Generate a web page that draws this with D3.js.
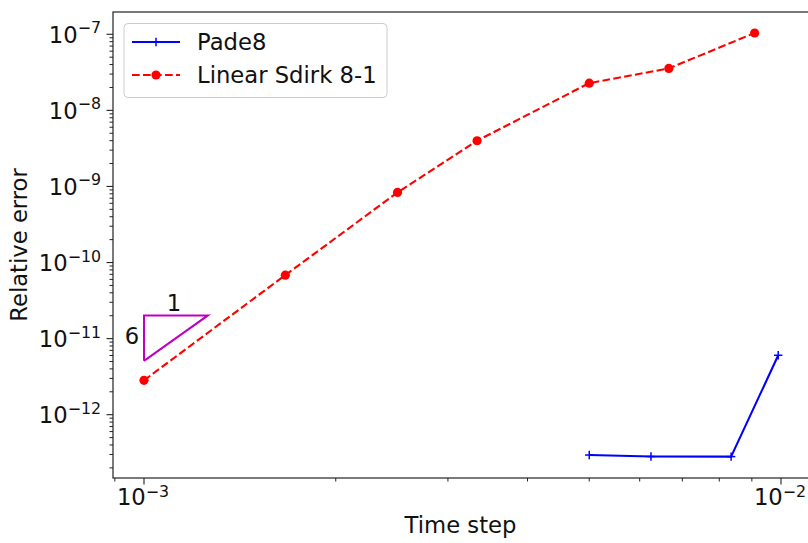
<!DOCTYPE html>
<html>
<head>
<meta charset="utf-8">
<script src="https://cdn.jsdelivr.net/npm/d3@7"></script>
<style>
  html, body { margin: 0; padding: 0; background: #fff; }
  svg { display: block; font-family: "DejaVu Sans", sans-serif; }
</style>
</head>
<body>
<svg id="chart" width="808" height="543"></svg>
<script>
// ---- data ----
const sdirkSteps = [0.001, 1/600, 0.0025, 1/300, 0.005, 1/150, 1/110];
const sdirkErrors = [2.83e-12, 6.83e-11, 8.34e-10, 3.99e-9, 2.28e-8, 3.56e-8, 1.04e-7];
const padeSteps = [0.005, 0.00625, 0.00835, 0.0099];
const padeErrors = [2.95e-13, 2.82e-13, 2.81e-13, 6.04e-12];
const slopeX = [0.001, 0.001, 0.00126, 0.001];
const slopeY = [5.1e-12, 2.02e-11, 2.02e-11, 5.1e-12];
const seriesNames = ["Pade8", "Linear Sdirk 8-1"];
const xMajor = [1e-3, 1e-2];
const xMajorExp = ["−3", "−2"];
const yMajor = [1e-12, 1e-11, 1e-10, 1e-9, 1e-8, 1e-7];
const yMajorExp = ["−12", "−11", "−10", "−9", "−8", "−7"];
const xLimits = [8.94e-4, 1.1025e-2];
const yLimits = [1.472e-13, 1.963e-7];

// ---- layout ----
const L = 113, R = 808, T = 12, B = 478;
const svg = d3.select("#chart");
const x = d3.scaleLog().domain(xLimits).range([L, R]);
const y = d3.scaleLog().domain(yLimits).range([B, T]);

function minorTicks(lim) {
  const out = [];
  const lo = Math.floor(Math.log10(lim[0])), hi = Math.ceil(Math.log10(lim[1]));
  for (let e = lo; e <= hi; e++) for (let k = 2; k <= 9; k++) {
    const v = k * Math.pow(10, e);
    if (v >= lim[0] && v <= lim[1]) out.push(v);
  }
  return out;
}

const ink = "#222";
const fs = 22.7, fsSup = 15.8;

// ticks x
const gx = svg.append("g");
minorTicks(xLimits).forEach(v => {
  gx.append("line").attr("x1", x(v)).attr("x2", x(v)).attr("y1", B).attr("y2", B + 3.5)
    .attr("stroke", ink).attr("stroke-width", 1);
});
xMajor.forEach((v, i) => {
  gx.append("line").attr("x1", x(v)).attr("x2", x(v)).attr("y1", B).attr("y2", B + 6.5)
    .attr("stroke", ink).attr("stroke-width", 1.1);
  const t = gx.append("text").attr("x", x(v) - 1).attr("y", 505).attr("text-anchor", "middle")
    .attr("font-size", fs).attr("fill", "#111");
  t.append("tspan").text("10");
  t.append("tspan").attr("font-size", fsSup).attr("dy", -8.5).text(xMajorExp[i]);
});

// ticks y
const gy = svg.append("g");
minorTicks(yLimits).forEach(v => {
  gy.append("line").attr("y1", y(v)).attr("y2", y(v)).attr("x1", L).attr("x2", L - 3.5)
    .attr("stroke", ink).attr("stroke-width", 1);
});
yMajor.forEach((v, i) => {
  gy.append("line").attr("y1", y(v)).attr("y2", y(v)).attr("x1", L).attr("x2", L - 6.5)
    .attr("stroke", ink).attr("stroke-width", 1.1);
  const t = gy.append("text").attr("x", 101).attr("y", y(v) + 8.5).attr("text-anchor", "end")
    .attr("font-size", fs).attr("fill", "#111");
  t.append("tspan").text("10");
  t.append("tspan").attr("font-size", fsSup).attr("dy", -9.5).text(yMajorExp[i]);
});

// spines
svg.append("rect").attr("x", L).attr("y", T).attr("width", R - L + 2).attr("height", B - T)
  .attr("fill", "none").attr("stroke", ink).attr("stroke-width", 1.2);

// series
const line = d3.line().x(d => x(d[0])).y(d => y(d[1]));
const padeData = padeSteps.map((s, i) => [s, padeErrors[i]]);
const sdirkData = sdirkSteps.map((s, i) => [s, sdirkErrors[i]]);

svg.append("path").datum(padeData).attr("d", line).attr("fill", "none")
  .attr("stroke", "#0000ff").attr("stroke-width", 2.1).attr("stroke-linejoin", "round");
function plus(g, cx, cy, h) {
  g.append("line").attr("x1", cx - h).attr("x2", cx + h).attr("y1", cy).attr("y2", cy)
    .attr("stroke", "#0000ff").attr("stroke-width", 1.5);
  g.append("line").attr("x1", cx).attr("x2", cx).attr("y1", cy - h).attr("y2", cy + h)
    .attr("stroke", "#0000ff").attr("stroke-width", 1.5);
}
const gp = svg.append("g");
padeData.forEach(d => plus(gp, x(d[0]), y(d[1]), 4.2));

svg.append("path").datum(sdirkData).attr("d", line).attr("fill", "none")
  .attr("stroke", "#ff0000").attr("stroke-width", 2.1).attr("stroke-dasharray", "7.7,3.3");
svg.append("g").selectAll("circle").data(sdirkData).join("circle")
  .attr("cx", d => x(d[0])).attr("cy", d => y(d[1])).attr("r", 4.6).attr("fill", "#ff0000");

// slope triangle
const triData = slopeX.map((s, i) => [s, slopeY[i]]);
svg.append("path").datum(triData).attr("d", line).attr("fill", "none")
  .attr("stroke", "#bf00bf").attr("stroke-width", 2).attr("stroke-linejoin", "miter");
svg.append("text").attr("x", (x(slopeX[0]) + x(slopeX[2])) / 2 - 2).attr("y", y(slopeY[1]) - 4)
  .attr("text-anchor", "middle").attr("font-size", fs).attr("fill", "#111").text("1");
svg.append("text").attr("x", x(slopeX[0]) - 12).attr("y", 344)
  .attr("text-anchor", "middle").attr("font-size", fs).attr("fill", "#111").text("6");

// axis labels
svg.append("text").attr("x", (L + R) / 2).attr("y", 533).attr("text-anchor", "middle")
  .attr("font-size", fs).attr("fill", "#111").text("Time step");
svg.append("text").attr("transform", `translate(27,${(T + B) / 2}) rotate(-90)`)
  .attr("text-anchor", "middle").attr("font-size", fs).attr("fill", "#111").text("Relative error");

// legend
const lg = svg.append("g");
lg.append("rect").attr("x", 124).attr("y", 23.5).attr("width", 263).attr("height", 74)
  .attr("rx", 4).attr("fill", "#fff").attr("fill-opacity", 0.8).attr("stroke", "#cccccc").attr("stroke-width", 1);
lg.append("line").attr("x1", 132).attr("x2", 180).attr("y1", 42).attr("y2", 42)
  .attr("stroke", "#0000ff").attr("stroke-width", 2.1);
plus(lg, 156, 42, 4.2);
lg.append("text").attr("x", 197).attr("y", 50).attr("font-size", fs).attr("fill", "#111").text(seriesNames[0]);
lg.append("line").attr("x1", 132).attr("x2", 180).attr("y1", 75).attr("y2", 75)
  .attr("stroke", "#ff0000").attr("stroke-width", 2.1).attr("stroke-dasharray", "7.7,3.3");
lg.append("circle").attr("cx", 156).attr("cy", 75).attr("r", 4.6).attr("fill", "#ff0000");
lg.append("text").attr("x", 197).attr("y", 83).attr("font-size", fs).attr("fill", "#111").text(seriesNames[1]);
</script>
</body>
</html>
